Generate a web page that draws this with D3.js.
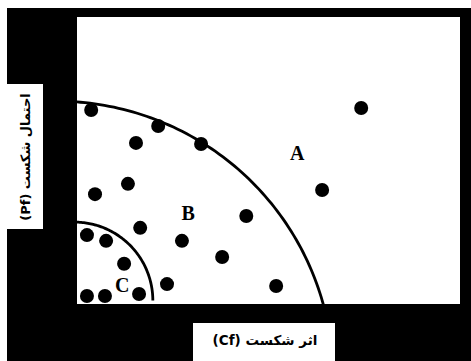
<!DOCTYPE html>
<html>
<head>
<meta charset="utf-8">
<script src="https://cdn.jsdelivr.net/npm/d3@7"></script>
<style>
  html, body { margin: 0; padding: 0; background: #fff; }
  svg { display: block; }
</style>
</head>
<body>
<div id="chart"></div>
<script>
// risk points (effect of failure Cf, probability of failure Pf)
var pointCf = [3.7, 21.2, 32.4, 15.4, 13.3, 4.7, 74.2, 64.0, 44.2, 27.4, 37.9,
               23.5, 52.0, 16.5, 2.6, 7.6, 12.3, 2.6, 7.3, 16.2];
var pointPf = [50.7, 46.5, 41.8, 42.1, 31.4, 28.7, 51.2, 29.8, 23.0, 16.5, 12.3,
               5.2, 4.7, 19.9, 18.0, 16.5, 10.5, 2.1, 2.1, 2.6];

// zone boundaries (circle arcs)
var boundaryCx = [-5.4, -0.7];
var boundaryCy = [-19.3, 0.9];
var boundaryR = [72.3, 20.5];

// zone names
var zoneNames = ['A', 'B', 'C'];
var zoneCf = [57.5, 29.0, 11.8];
var zonePf = [39.5, 23.8, 5.0];

var xTitle = 'اثر شکست (Cf)';
var yTitle = 'احتمال شکست (Pf)';

var W = 471, H = 361;
var plot = {left: 77, right: 460, top: 17, bottom: 304};

var svg = d3.select('#chart').append('svg')
  .attr('width', W).attr('height', H);

svg.append('rect').attr('x', 7).attr('y', 8)
  .attr('width', W - 7).attr('height', H - 8).attr('fill', '#000');

svg.append('rect')
  .attr('x', plot.left).attr('y', plot.top)
  .attr('width', plot.right - plot.left).attr('height', plot.bottom - plot.top)
  .attr('fill', '#fff');

var x = d3.scaleLinear().domain([0, 100]).range([plot.left, plot.right]);
var y = d3.scaleLinear().domain([0, 75]).range([plot.bottom, plot.top]);

svg.append('clipPath').attr('id', 'plotclip')
  .append('rect')
  .attr('x', plot.left).attr('y', plot.top)
  .attr('width', plot.right - plot.left).attr('height', plot.bottom - plot.top);

var g = svg.append('g').attr('clip-path', 'url(#plotclip)');

var line = d3.line().x(function (d) { return x(d[0]); }).y(function (d) { return y(d[1]); });
boundaryR.forEach(function (r, i) {
  var pts = d3.range(0, 91, 1).map(function (a) {
    var t = a * Math.PI / 180;
    return [boundaryCx[i] + r * Math.cos(t), boundaryCy[i] + r * Math.sin(t)];
  });
  g.append('path').attr('d', line(pts))
    .attr('fill', 'none').attr('stroke', '#000').attr('stroke-width', 2.8);
});

g.selectAll('circle.pt').data(pointCf).enter().append('circle')
  .attr('class', 'pt')
  .attr('cx', function (d) { return x(d); })
  .attr('cy', function (d, i) { return y(pointPf[i]); })
  .attr('r', 7)
  .attr('fill', '#000');

g.selectAll('text.zone').data(zoneNames).enter().append('text')
  .attr('class', 'zone')
  .attr('x', function (d, i) { return x(zoneCf[i]); })
  .attr('y', function (d, i) { return y(zonePf[i]); })
  .attr('text-anchor', 'middle').attr('dominant-baseline', 'central')
  .attr('font-family', '"Liberation Serif", serif')
  .attr('font-weight', 'bold').attr('font-size', 20)
  .text(function (d) { return d; });

// axis titles in white boxes
svg.append('rect').attr('x', 193).attr('y', 323).attr('width', 142).attr('height', 38).attr('fill', '#fff');
svg.append('text')
  .attr('x', 265).attr('y', 340)
  .attr('text-anchor', 'middle').attr('dominant-baseline', 'central')
  .attr('direction', 'rtl')
  .attr('font-family', '"DejaVu Sans", sans-serif')
  .attr('font-weight', 'bold').attr('font-size', 13.5)
  .text(xTitle);

svg.append('rect').attr('x', 7).attr('y', 84).attr('width', 36).attr('height', 145).attr('fill', '#fff');
svg.append('text')
  .attr('transform', 'translate(25,157) rotate(-90)')
  .attr('text-anchor', 'middle').attr('dominant-baseline', 'central')
  .attr('direction', 'rtl')
  .attr('font-family', '"DejaVu Sans", sans-serif')
  .attr('font-weight', 'bold').attr('font-size', 13)
  .text(yTitle);
</script>
</body>
</html>
